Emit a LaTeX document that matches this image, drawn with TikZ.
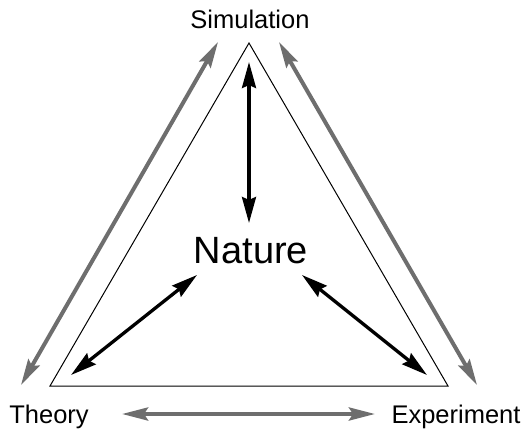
\documentclass[tikz,border=0pt]{standalone}
\usepackage{fontspec}
\setmainfont{Liberation Sans}
\usetikzlibrary{arrows.meta}
\definecolor{arrgray}{RGB}{110,110,110}
\tikzset{
  lbl/.style={font=\fontsize{25.5}{30}\selectfont, inner sep=0pt, anchor=base},
  blk/.style={line width=3.3pt, black, {Stealth[length=26pt,width=14pt,inset=3pt]}-{Stealth[length=26pt,width=14pt,inset=3pt]}},
  gry/.style={line width=4pt, arrgray, {Stealth[length=26pt,width=13pt,inset=4pt]}-{Stealth[length=26pt,width=13pt,inset=4pt]}},
}
\begin{document}
\begin{tikzpicture}[x=1pt,y=-1pt]
\useasboundingbox (0,0) rectangle (523,432);
% triangle
\coordinate (A) at (249,43);
\coordinate (B) at (50,386);
\coordinate (C) at (448,386);
\draw[line width=1pt] (A) -- (B) -- (C) -- cycle;
% labels
\node[lbl] (sim) at (250,28) {Simulation};
\node[lbl] (the) at (49,423) {Theory};
\node[lbl] (exp) at (456,423) {Experiment};
\node[font=\fontsize{38}{44}\selectfont, inner sep=0pt, anchor=base] (nat) at (251,263) {Nature};
% black arrow end points
\coordinate (n1) at (249,62);
\coordinate (n2) at (249,223);
\coordinate (l1) at (197,275);
\coordinate (l2) at (71,375);
\coordinate (r1) at (302,275);
\coordinate (r2) at (427,375);
\draw[blk] (n1) -- (n2);
\draw[blk] (l1) -- (l2);
\draw[blk] (r1) -- (r2);
% gray arrows
\coordinate (g1) at (218,42);
\coordinate (g2) at (21,385);
\coordinate (g3) at (279,42);
\coordinate (g4) at (477,385);
\coordinate (g5) at (122,414);
\coordinate (g6) at (375,414);
\draw[gry] (g1) -- (g2);
\draw[gry] (g3) -- (g4);
\draw[gry] (g5) -- (g6);
\end{tikzpicture}
\end{document}
